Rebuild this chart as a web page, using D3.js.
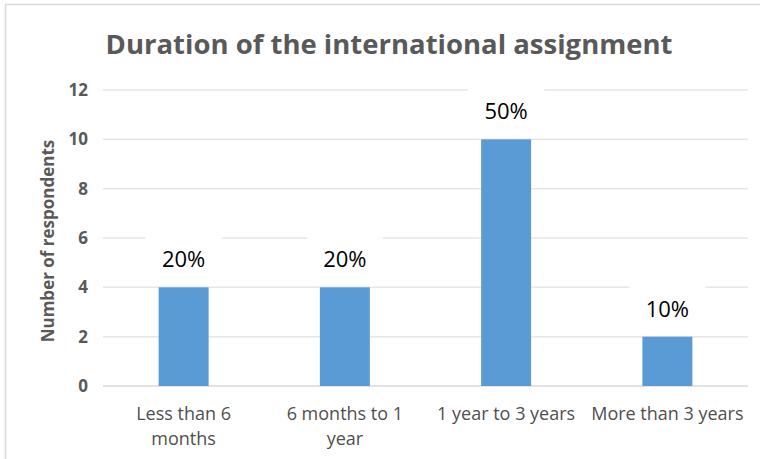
<!DOCTYPE html>
<html lang="en">
<head>
  <meta charset="UTF-8">
  <title>Duration of the international assignment</title>
  <script src="https://cdnjs.cloudflare.com/ajax/libs/d3/7.8.5/d3.min.js"></script>
  <style>
    body { margin: 0; background: #fff; }
    text { font-family: "Open Sans", "Liberation Sans", sans-serif; }
  </style>
</head>
<body>
  <div id="chart"></div>
  <script>
// chart data
var categories = [["Less than 6", "months"], ["6 months to 1", "year"], ["1 year to 3 years"], ["More than 3 years"]];
var respondents = [4, 4, 10, 2];
var percentLabels = ["20%", "20%", "50%", "10%"];
var yTicks = [0, 2, 4, 6, 8, 10, 12];

var svgWidth = 760;
var svgHeight = 459;

var margin = { top: 90, right: 12, bottom: 73, left: 103 };
var width = svgWidth - margin.left - margin.right;
var height = svgHeight - margin.top - margin.bottom;

var svg = d3.select("#chart")
  .append("svg")
  .attr("width", svgWidth)
  .attr("height", svgHeight);

// outer border
svg.append("rect")
  .attr("x", 5.5)
  .attr("y", 4.5)
  .attr("width", svgWidth)
  .attr("height", svgHeight)
  .attr("fill", "#fff")
  .attr("stroke", "#d9d9d9")
  .attr("stroke-width", 1.5);

svg.append("text")
  .attr("x", 389)
  .attr("y", 54)
  .attr("text-anchor", "middle")
  .attr("font-size", 27.5)
  .attr("font-weight", "bold")
  .attr("fill", "#595959")
  .text("Duration of the international assignment");

var chartGroup = svg.append("g")
  .attr("transform", `translate(${margin.left}, ${margin.top})`);

var xScale = d3.scaleBand()
  .domain(d3.range(categories.length))
  .range([0, width])
  .paddingInner(0.69)
  .paddingOuter(0.345);

var yScale = d3.scaleLinear()
  .domain([0, 12])
  .range([height, 0]);

// gridlines
chartGroup.append("g")
  .selectAll("line")
  .data(yTicks)
  .enter()
  .append("line")
  .attr("x1", 0)
  .attr("x2", width)
  .attr("y1", d => yScale(d))
  .attr("y2", d => yScale(d))
  .attr("stroke", d => d === 0 ? "#d9d9d9" : "#e6e6e6")
  .attr("stroke-width", 1.5);

// y axis (labels only)
var leftAxis = d3.axisLeft(yScale).tickValues(yTicks).tickSize(0).tickPadding(15);
var yAxis = chartGroup.append("g").call(leftAxis);
yAxis.select(".domain").remove();
yAxis.selectAll("text")
  .attr("font-size", 17)
  .attr("font-weight", "bold")
  .attr("fill", "#595959")
  .style("font-family", "'Open Sans', sans-serif");

chartGroup.append("text")
  .attr("transform", "rotate(-90)")
  .attr("x", -height / 2 - 3)
  .attr("y", -49)
  .attr("text-anchor", "middle")
  .attr("font-size", 17)
  .attr("font-weight", "bold")
  .attr("fill", "#595959")
  .text("Number of respondents");

// bars
chartGroup.selectAll("rect.bar")
  .data(respondents)
  .enter()
  .append("rect")
  .attr("class", "bar")
  .attr("x", (d, i) => xScale(i))
  .attr("y", d => yScale(d))
  .attr("width", xScale.bandwidth())
  .attr("height", d => height - yScale(d))
  .attr("fill", "#5b9bd5");

// data labels with white background
var labelGroup = chartGroup.selectAll("g.label")
  .data(respondents)
  .enter()
  .append("g")
  .attr("class", "label")
  .attr("transform", (d, i) => `translate(${xScale(i) + xScale.bandwidth() / 2}, ${yScale(d) - 20})`);

labelGroup.append("rect")
  .attr("x", -38)
  .attr("y", -34)
  .attr("width", 76)
  .attr("height", 42)
  .attr("fill", "#fff");

labelGroup.append("text")
  .attr("text-anchor", "middle")
  .attr("font-size", 22)
  .attr("fill", "#000")
  .text((d, i) => percentLabels[i]);

// category labels
var catGroup = chartGroup.selectAll("text.cat")
  .data(categories)
  .enter()
  .append("text")
  .attr("class", "cat")
  .attr("text-anchor", "middle")
  .attr("font-size", 18)
  .attr("fill", "#4f4f4f")
  .attr("x", (d, i) => xScale(i) + xScale.bandwidth() / 2)
  .attr("y", height + 34);

catGroup.selectAll("tspan")
  .data(d => d)
  .enter()
  .append("tspan")
  .attr("x", function() { return d3.select(this.parentNode).attr("x"); })
  .attr("dy", (d, i) => i === 0 ? 0 : 25)
  .text(d => d);
  </script>
</body>
</html>
